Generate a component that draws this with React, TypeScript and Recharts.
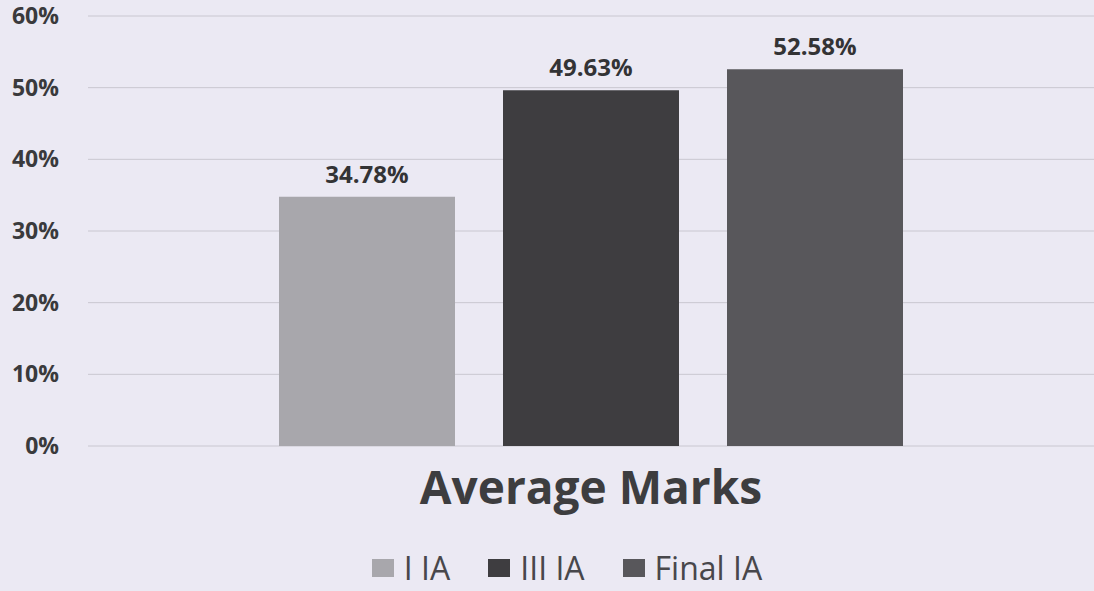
import React from "react";
import { BarChart, Bar, XAxis, YAxis, CartesianGrid, Legend, LabelList } from "recharts";

const categories = ["Average Marks"];
const seriesNames = ["I IA", "III IA", "Final IA"];
const seriesValues = [34.78, 49.63, 52.58];
const seriesColors = ["#a8a7ac", "#3e3d40", "#58575b"];
const yTicks = [0, 10, 20, 30, 40, 50, 60];

const data = categories.map((c) => {
  const row: Record<string, any> = { name: c };
  seriesNames.forEach((s, i) => (row[s] = seriesValues[i]));
  return row;
});

const FONT = "'Open Sans', 'DejaVu Sans', sans-serif";

const renderLegend = () => (
  <div style={{ display: "flex", justifyContent: "center", alignItems: "center", fontFamily: FONT, fontSize: 32, color: "#48474b", height: 40, paddingLeft: 40 }}>
    {seriesNames.map((s, i) => (
      <div key={s} style={{ display: "flex", alignItems: "center", marginRight: i < seriesNames.length - 1 ? 38 : 0 }}>
        <span style={{ display: "inline-block", width: 22, height: 18, background: seriesColors[i], marginRight: 10 }} />
        <span style={{ lineHeight: "40px" }}>{s}</span>
      </div>
    ))}
  </div>
);

export default function App() {
  return (
    <div style={{ position: "absolute", left: 0, top: 0, width: 1094, height: 591, background: "#ebe9f3" }}>
      <BarChart width={1094} height={591} data={data} margin={{ top: 16, right: 0, bottom: 3, left: 0 }} barSize={176} barGap={48}>
        <CartesianGrid vertical={false} stroke="#c9c7d0" strokeWidth={1} />
        <XAxis
          dataKey="name"
          axisLine={false}
          tickLine={false}
          height={102}
          tickMargin={19}
          tick={{ fontFamily: FONT, fontSize: 46, fontWeight: 700, fill: "#3d3d3f" }}
        />
        <YAxis
          domain={[0, 60]}
          ticks={yTicks}
          width={88}
          axisLine={false}
          tickLine={false}
          tickSize={0}
          tickMargin={29}
          tickFormatter={(v: number) => `${v}%`}
          tick={{ fontFamily: FONT, fontSize: 23, fontWeight: 700, fill: "#3a3a3c" }}
        />
        <Legend verticalAlign="bottom" height={40} content={renderLegend} />
        {seriesNames.map((s, i) => (
          <Bar key={s} dataKey={s} fill={seriesColors[i]} isAnimationActive={false}>
            <LabelList
              dataKey={s}
              position="top"
              offset={14}
              formatter={(v: number) => `${v.toFixed(2)}%`}
              style={{ fontFamily: FONT, fontSize: 24, fontWeight: 700, fill: "#333335" }}
            />
          </Bar>
        ))}
      </BarChart>
    </div>
  );
}
